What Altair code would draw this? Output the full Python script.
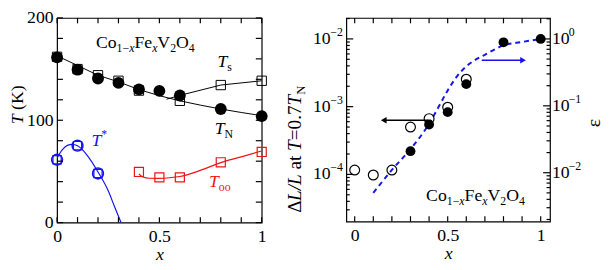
import altair as alt
import pandas as pd

FONT = "Liberation Serif"
BLUE = "#1414ee"
RED = "#ee1414"
BLACK = "black"

# ---------------- left panel data ----------------
tn_x = [0.0, 0.1, 0.2, 0.3, 0.4, 0.5, 0.6, 0.8, 1.0]
tn_y = [161.5, 149.4, 140.8, 136.6, 130.2, 128.7, 124.2, 111.0, 104.0]
ts_x = [0.0, 0.1, 0.2, 0.3, 0.4, 0.6, 0.8, 1.0]
ts_y = [162.0, 150.0, 144.0, 138.6, 129.0, 119.0, 134.4, 138.6]
tstar_x = [0.0, 0.1, 0.2]
tstar_y = [61.4, 75.2, 48.0]
too_x = [0.4, 0.5, 0.6, 0.8, 1.0]
too_y = [49.5, 44.2, 44.2, 58.9, 69.0]

tn_line_x = [0.0, 0.1, 0.2, 0.3, 0.4, 0.5, 0.6, 0.7, 0.8, 0.9, 1.0]
tn_line_y = [163.0, 153.5, 144.0, 137.5, 130.0, 124.0, 119.0, 114.8, 111.0, 107.6, 104.5]
ts_line_x = [0.535, 0.6, 0.8, 1.0]
ts_line_y = [120.6, 124.3, 134.4, 138.6]
tstar_line_x = [0.0, 0.025, 0.05, 0.075, 0.1, 0.15, 0.2, 0.25, 0.28, 0.3125]
tstar_line_y = [63.0, 71.0, 75.5, 76.5, 75.0, 65.0, 49.5, 31.0, 16.0, 0.0]
too_line_x = [0.4, 0.42, 0.45, 0.5, 0.55, 0.6, 0.7, 0.8, 0.9, 1.0]
too_line_y = [47.5, 44.5, 43.3, 43.2, 43.8, 45.0, 51.0, 58.6, 64.2, 70.0]

# ---------------- right panel data ----------------
dl_open_x = [0.0, 0.1, 0.2, 0.3, 0.4, 0.5, 0.6]
dl_open_y = [1.16e-4, 9.8e-5, 1.16e-4, 5.0e-4, 6.65e-4, 9.8e-4, 2.54e-3]
dl_fill_x = [0.3, 0.4, 0.5, 0.6, 0.8, 1.0]
dl_fill_y = [2.2e-4, 5.45e-4, 8.3e-4, 2.15e-3, 8.9e-3, 1.0e-2]
eps_x = [0.1, 0.2, 0.3, 0.4, 0.45, 0.5, 0.55, 0.6, 0.65, 0.7, 0.8, 0.9, 1.0]
eps_y = [0.005, 0.011, 0.0226, 0.054, 0.095, 0.17, 0.275, 0.39, 0.49, 0.58, 0.80, 0.90, 1.0]
arrow_blk_x = [0.396, 0.156]
arrow_blk_y = [6.3e-4, 6.3e-4]
arrow_blu_x = [0.683, 0.905]
arrow_blu_y = [0.48, 0.48]

# tick values
x_ticks = [0.0, 0.1, 0.2, 0.3, 0.4, 0.5, 0.6, 0.7, 0.8, 0.9, 1.0]
x_labels = [0, 0.5, 1]
t_ticks = [0, 20, 40, 60, 80, 100, 120, 140, 160, 180, 200]
t_labels = [0, 100, 200]
dl_major = [1e-4, 1e-3, 1e-2]
dl_exp = ["\u22124", "\u22123", "\u22122"]
eps_major = [1e-2, 1e-1, 1.0]
eps_exp = ["\u22122", "\u22121", "0"]

DL_DOM = [2.01e-5, 2.04e-2]
EPS_DOM = [1.86e-3, 2.06]
dl_minor = [m * 10.0 ** e for e in (-5, -4, -3, -2) for m in range(2, 10)
            if DL_DOM[0] <= m * 10.0 ** e <= DL_DOM[1]]
eps_minor = [m * 10.0 ** e for e in (-3, -2, -1, 0) for m in range(2, 10)
             if EPS_DOM[0] <= m * 10.0 ** e <= EPS_DOM[1]]

# ---------------- helpers ----------------
REG = {' ': 250, '0': 500, '1': 500, '2': 500, '3': 500, '4': 500, '5': 500,
       '6': 500, '7': 500, '8': 500, '9': 500, '.': 250, '=': 564, '\u2212': 564,
       'C': 667, 'o': 500, 'F': 556, 'e': 444, 'V': 722, 'O': 722, 'a': 444,
       't': 278, '\u0394': 612, 'N': 722, 'L': 611, 'T': 611, '/': 278, 'K': 722,
       '(': 333, ')': 333, 's': 389, '*': 500}
ITA = {'L': 556, 'T': 556, 'x': 444, '/': 278, 'N': 667}


def seg_w(txt, size, italic):
    tab = ITA if italic else REG
    return sum(tab.get(c, REG.get(c, 500)) for c in txt) * size / 1000.0


def rich(df, xenc, yenc, segs, color=BLACK, angle=0):
    out = []
    off = 0.0
    for txt, size, italic, dy in segs:
        lead = len(txt) - len(txt.lstrip(" "))
        off += seg_w(" " * lead, size, italic)
        core = txt.strip(" ")
        out.append(
            alt.Chart(df).mark_text(
                text=core, font=FONT, fontSize=size,
                fontStyle="italic" if italic else "normal",
                align="left", baseline="alphabetic", dx=off, dy=dy,
                angle=angle, color=color,
            ).encode(x=xenc, y=yenc)
        )
        off += seg_w(txt.lstrip(" "), size, italic)
    return out


COMPOUND = [("Co", 18, False, 0), ("1\u2212", 12, False, 4), ("x", 12, True, 4),
            ("Fe", 18, False, 0), ("x", 12, True, 4), ("V", 18, False, 0),
            ("2", 12, False, 4), ("O", 18, False, 0), ("4", 12, False, 4)]

TW = 1.2  # tick stroke width

# ---------------- left panel ----------------
LW, LH = 208, 208
xsc_l = alt.Scale(domain=[0, 1], nice=False, zero=False)
ysc_l = alt.Scale(domain=[0, 200], nice=False)
xax_l = alt.Axis(values=x_labels, format="~g", title="x", labelPadding=5,
                 titlePadding=1, labelFlush=False)
yax_l = alt.Axis(values=t_labels, title=None, labelPadding=4, labelFlush=False)
XL = alt.X("x:Q", scale=xsc_l, axis=xax_l)
YL = alt.Y("y:Q", scale=ysc_l, axis=yax_l)


def df2(x, y):
    return pd.DataFrame({"x": x, "y": y})


L = []
L.append(alt.Chart(df2(tn_line_x, tn_line_y)).mark_line(color=BLACK, strokeWidth=1).encode(x=XL, y=YL))
L.append(alt.Chart(df2(ts_line_x, ts_line_y)).mark_line(color=BLACK, strokeWidth=1).encode(x=XL, y=YL))
L.append(alt.Chart(df2(tstar_line_x, tstar_line_y)).mark_line(color=BLUE, strokeWidth=1.2, interpolate="monotone", clip=True).encode(x=XL, y=YL))
L.append(alt.Chart(df2(too_line_x, too_line_y)).mark_line(color=RED, strokeWidth=1.2, interpolate="monotone").encode(x=XL, y=YL))
L.append(alt.Chart(df2(ts_x, ts_y)).mark_point(shape="square", filled=False, size=90, stroke=BLACK, strokeWidth=1, opacity=1).encode(x=XL, y=YL))
L.append(alt.Chart(df2(tn_x, tn_y)).mark_point(shape="circle", filled=True, size=144, color=BLACK, opacity=1).encode(x=XL, y=YL))
L.append(alt.Chart(df2(tstar_x, tstar_y)).mark_point(shape="circle", filled=False, size=120, stroke=BLUE, strokeWidth=1.6, opacity=1).encode(x=XL, y=YL))
L.append(alt.Chart(df2(tstar_x, tstar_y)).mark_point(shape="square", filled=False, size=70, stroke=BLUE, strokeWidth=1.2, opacity=1).encode(x=XL, y=YL))
L.append(alt.Chart(df2(too_x, too_y)).mark_point(shape="square", filled=False, size=85, stroke=RED, strokeWidth=1.2, opacity=1).encode(x=XL, y=YL))

# inward ticks
tx = df2(x_ticks, [0] * len(x_ticks))
ty = df2([0] * len(t_ticks), t_ticks)
L.append(alt.Chart(tx).mark_rule(color=BLACK, strokeWidth=TW).encode(x=XL, y=alt.value(LH), y2=alt.value(LH - 5.5)))
L.append(alt.Chart(tx).mark_rule(color=BLACK, strokeWidth=TW).encode(x=XL, y=alt.value(0), y2=alt.value(5.5)))
L.append(alt.Chart(ty).mark_rule(color=BLACK, strokeWidth=TW).encode(y=YL, x=alt.value(0), x2=alt.value(6)))
L.append(alt.Chart(ty).mark_rule(color=BLACK, strokeWidth=TW).encode(y=YL, x=alt.value(LW), x2=alt.value(LW - 6)))

# labels
L += rich(df2([0.19], [171]), XL, YL, COMPOUND)
L += rich(df2([0.784], [152]), XL, YL, [("T", 18, True, 0), ("s", 12, False, 4)])
L += rich(df2([0.77], [86.7]), XL, YL, [("T", 18, True, 0), ("N", 12, False, 4)])
L += rich(df2([0.168], [75]), XL, YL, [("T", 18, True, 0), ("*", 12, False, -8)], color=BLUE)
L += rich(df2([0.742], [34.6]), XL, YL, [("T", 18, True, 0), ("oo", 12, False, 4)], color=RED)
one = pd.DataFrame({"d": [0]})
L += rich(one, alt.value(-35), alt.value(108), [("T", 18, True, 0), (" (K)", 18, False, 0)], angle=270)

left = alt.layer(*L).properties(width=LW, height=LH)

# ---------------- right panel ----------------
RW, RH = 207, 207
xsc_r = alt.Scale(domain=[-0.045, 1.05], nice=False, zero=False)
xax_r = alt.Axis(values=x_labels, format="~g", title="x", labelPadding=5,
                 titlePadding=1, labelFlush=False)
XR = alt.X("x:Q", scale=xsc_r, axis=xax_r)
YD = alt.Y("y:Q", scale=alt.Scale(type="log", domain=DL_DOM, nice=False), axis=None)
YE = alt.Y("y:Q", scale=alt.Scale(type="log", domain=EPS_DOM, nice=False), axis=None)

R = []
R.append(alt.Chart(df2(eps_x, eps_y)).mark_line(color=BLUE, strokeWidth=2, strokeDash=[5, 4], interpolate="monotone").encode(x=XR, y=YE))
R.append(alt.Chart(df2(dl_open_x, dl_open_y)).mark_point(shape="circle", filled=False, size=100, stroke=BLACK, strokeWidth=1.2, opacity=1).encode(x=XR, y=YD))
R.append(alt.Chart(df2(dl_fill_x, dl_fill_y)).mark_point(shape="circle", filled=True, size=100, color=BLACK, opacity=1).encode(x=XR, y=YD))
# arrows
R.append(alt.Chart(df2(arrow_blk_x, arrow_blk_y)).mark_line(color=BLACK, strokeWidth=1.5).encode(x=XR, y=YD))
R.append(alt.Chart(df2(arrow_blk_x[-1:], arrow_blk_y[-1:])).mark_point(shape="triangle-left", filled=True, size=45, color=BLACK, opacity=1).encode(x=XR, y=YD))
R.append(alt.Chart(df2(arrow_blu_x, arrow_blu_y)).mark_line(color=BLUE, strokeWidth=1.5).encode(x=XR, y=YE))
R.append(alt.Chart(df2(arrow_blu_x[-1:], arrow_blu_y[-1:])).mark_point(shape="triangle-right", filled=True, size=45, color=BLUE, opacity=1).encode(x=XR, y=YE))

# inward ticks
R.append(alt.Chart(tx).mark_rule(color=BLACK, strokeWidth=TW).encode(x=XR, y=alt.value(RH), y2=alt.value(RH - 5.5)))
R.append(alt.Chart(tx).mark_rule(color=BLACK, strokeWidth=TW).encode(x=XR, y=alt.value(0), y2=alt.value(5.5)))
dmaj = df2([0] * 3, dl_major)
dmin = df2([0] * len(dl_minor), dl_minor)
emaj = df2([0] * 3, eps_major)
emin = df2([0] * len(eps_minor), eps_minor)
R.append(alt.Chart(dmaj).mark_rule(color=BLACK, strokeWidth=TW).encode(y=YD, x=alt.value(0), x2=alt.value(7)))
R.append(alt.Chart(dmin).mark_rule(color=BLACK, strokeWidth=TW).encode(y=YD, x=alt.value(0), x2=alt.value(3.5)))
R.append(alt.Chart(emaj).mark_rule(color=BLACK, strokeWidth=TW).encode(y=YE, x=alt.value(RW), x2=alt.value(RW - 7)))
R.append(alt.Chart(emin).mark_rule(color=BLACK, strokeWidth=TW).encode(y=YE, x=alt.value(RW), x2=alt.value(RW - 3.5)))

# log axis labels: 10 with superscript exponent
dlab = pd.DataFrame({"x": [0] * 3, "y": dl_major, "e": dl_exp})
elab = pd.DataFrame({"x": [0] * 3, "y": eps_major, "e": eps_exp})
R.append(alt.Chart(dlab).mark_text(text="10", font=FONT, fontSize=18, align="right", baseline="middle").encode(y=YD, x=alt.value(-16)))
R.append(alt.Chart(dlab).mark_text(font=FONT, fontSize=12, align="right", baseline="middle", dy=-7).encode(y=YD, x=alt.value(-3.5), text="e:N"))
R.append(alt.Chart(elab).mark_text(text="10", font=FONT, fontSize=18, align="left", baseline="middle").encode(y=YE, x=alt.value(RW + 2)))
R.append(alt.Chart(elab).mark_text(font=FONT, fontSize=12, align="left", baseline="middle", dy=-7).encode(y=YE, x=alt.value(RW + 19), text="e:N"))

# texts
R += rich(df2([0.384], [4.1e-5]), XR, YD, COMPOUND)
R += rich(one, alt.value(-46), alt.value(198),
          [("\u0394", 19.5, False, 0), ("L/L", 19.5, True, 0), (" at ", 19.5, False, 0),
           ("T", 19.5, True, 0), ("=0.7", 19.5, False, 0), ("T", 19.5, True, 0),
           ("N", 13, False, 4)], angle=270)
R.append(alt.Chart(one).mark_text(text="\u03b5", font=FONT, fontSize=20, angle=270,
                                  align="center", baseline="middle").encode(
    x=alt.value(RW + 45), y=alt.value(107)))

right = alt.layer(*R).resolve_scale(y="independent").properties(width=RW, height=RH)

chart = alt.hconcat(left, right, spacing=86, bounds="flush").properties(
    padding={"left": 8, "top": 6, "right": 5, "bottom": 5}
).configure_view(stroke=BLACK, strokeWidth=1.2).configure_axis(
    labelFont=FONT, labelFontSize=18, labelColor=BLACK, titleFont=FONT,
    titleFontSize=18, titleFontWeight="normal", titleFontStyle="italic",
    titleColor=BLACK, domain=False, ticks=False, grid=False,
)

chart.save("out.html", embed_options={"renderer": "svg", "actions": False})
